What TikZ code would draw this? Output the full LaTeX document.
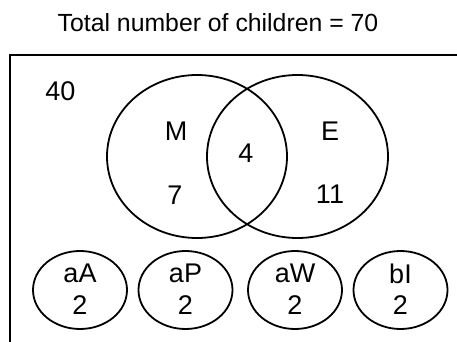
\documentclass[tikz,border=0pt]{standalone}
\usepackage{fontspec}
\setmainfont{Liberation Sans}
\usetikzlibrary{shapes.geometric}
\tikzset{
  setshape/.style={ellipse, draw, line width=1.8pt, inner sep=0pt},
  lbl/.style={inner sep=0pt, font=\fontsize{27}{32}\selectfont},
  frameline/.style={line width=2.4pt, line cap=rect}
}
\begin{document}
\begin{tikzpicture}[x=1pt,y=-1pt]
\useasboundingbox (0,0) rectangle (457,342);
\node[inner sep=0pt, font=\fontsize{24.8}{30}\selectfont] (title) at (218,22.5) {Total number of children = 70};
\coordinate (c1) at (10,342);
\coordinate (c2) at (10,55);
\coordinate (c3) at (457,55);
\draw[frameline] (c1) -- (c2) -- (c3);
\node[lbl] (n40) at (60.5,91.5) {40};
% Venn circles
\node[setshape, minimum width=180pt, minimum height=163pt] (M) at (197,156.5) {};
\node[setshape, minimum width=181pt, minimum height=163pt] (E) at (297.5,156.5) {};
\node[lbl] (Ml) at (176,131) {M};
\node[lbl] (Mn) at (175,195) {7};
\node[lbl] (In) at (246,153) {4};
\node[lbl] (El) at (330,131) {E};
\node[lbl] (En) at (330,194) {11};
% small sets
\foreach \nm/\x/\t in {aA/80/aA, aP/185.5/aP, aW/295/aW, bI/400.5/bI}{
  \node[setshape, minimum width=94pt, minimum height=78pt] (\nm) at (\x,290) {};
  \node[lbl] (\nm t) at (\x,273.5) {\t};
  \node[lbl] (\nm n) at (\x,305.5) {2};
}
\end{tikzpicture}
\end{document}
